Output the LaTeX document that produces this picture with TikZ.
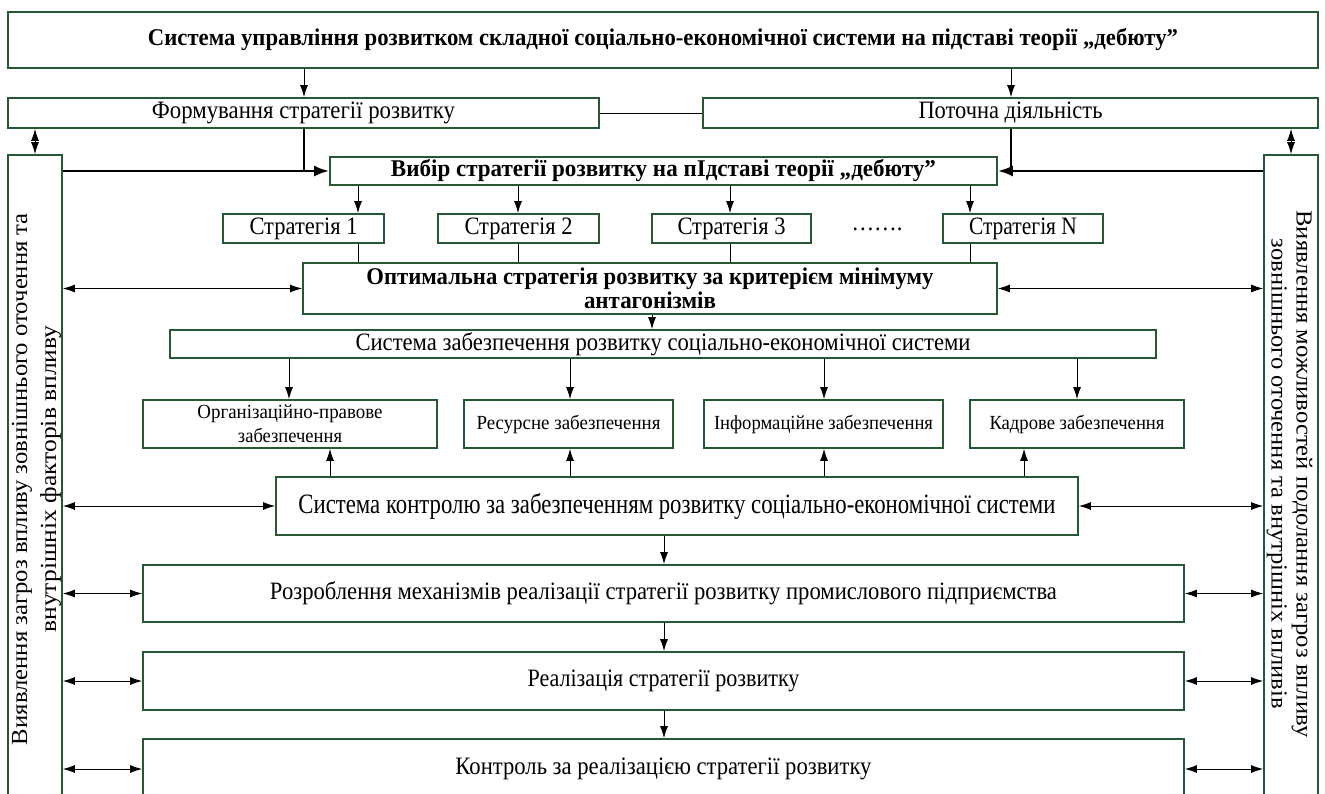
\documentclass[tikz,border=0pt]{standalone}
\usepackage{fontspec}
\setmainfont{Liberation Serif}
\usetikzlibrary{arrows.meta}
\definecolor{boxgreen}{RGB}{38,88,52}
\newcommand{\fw}[2]{\resizebox{#1pt}{\height}{#2}}
\begin{document}
\begin{tikzpicture}[x=1pt,y=-1pt,
  box/.style={draw=boxgreen, line width=1.8pt, rectangle, inner sep=0pt, fill=white},
  arr/.style={-{Latex[length=12pt,width=8pt]}, line width=0.8pt},
  darr/.style={{Latex[length=12pt,width=8pt]}-{Latex[length=12pt,width=8pt]}, line width=0.8pt},
  tharr/.style={-{Latex[length=15pt,width=11pt]}, line width=2.4pt},
  thln/.style={line width=2.4pt},
  ln/.style={line width=0.8pt},
  fbig/.style={font=\fontsize{25}{28}\selectfont},
  fbold/.style={font=\bfseries\fontsize{24}{24}\selectfont},
  fsmall/.style={font=\fontsize{20}{24}\selectfont},
  fctrl/.style={font=\fontsize{28}{30}\selectfont}
  ]
\useasboundingbox (0,0) rectangle (1325,794);
\fill[white] (0,0) rectangle (1325,794);
\clip (0,0) rectangle (1325,794);

% side boxes
\node[box, minimum width=54, minimum height=645] (lside) at (35,477.5) {};
\node[box, minimum width=54, minimum height=645] (rside) at (1291,477.5) {};
\node[font=\fontsize{23}{29}\selectfont, align=center, rotate=90, inner sep=0pt] (ltext) at (36.5,479)
  {\fw{532}{Виявлення загроз впливу зовнішнього оточення та}\\\fw{307}{внутрішніх факторів впливу}};
\node[font=\fontsize{23}{25}\selectfont, align=center, rotate=-90, inner sep=0pt] (rtext) at (1289.5,474)
  {\fw{527}{Виявлення можливостей подолання загроз впливу}\\\fw{470}{зовнішнього оточення та внутрішніх впливів}};

% top rows
\node[box, fbold, minimum width=1310, minimum height=56] (top) at (663,40)
  {\fw{1030}{Система управління розвитком складної соціально-економічної системи на підставі теорії „дебюту”}};
\node[box, fbig, minimum width=591, minimum height=30] (form) at (303.5,113)
  {\fw{303}{Формування стратегії розвитку}};
\node[box, fbig, minimum width=615, minimum height=30] (potoch) at (1010.5,113)
  {\fw{184}{Поточна діяльність}};
\node[box, fbold, minimum width=667, minimum height=28] (vybir) at (663.5,171)
  {\fw{545}{Вибір стратегії розвитку на пІдставі теорії „дебюту”}};

% strategies
\node[box, fbig, minimum width=161, minimum height=29] (s1) at (303.5,228.5) {\fw{108}{Стратегія 1}};
\node[box, fbig, minimum width=161, minimum height=29] (s2) at (518.5,228.5) {\fw{108}{Стратегія 2}};
\node[box, fbig, minimum width=159, minimum height=29] (s3) at (731.5,228.5) {\fw{108}{Стратегія 3}};
\node[box, fbig, minimum width=160, minimum height=29] (sn) at (1023,228.5) {\fw{108}{Стратегія N}};
\node[fbig, inner sep=0pt] (dots) at (877,229) {\fw{51}{…….}};

\node[box, fbold, minimum width=694, minimum height=51, align=center] (opt) at (650,288.5)
  {\fw{567}{Оптимальна стратегія розвитку за критерієм мінімуму}\\\fw{132}{антагонізмів}};

\node[box, fbig, minimum width=986, minimum height=28] (zab) at (663,344)
  {\fw{615}{Система забезпечення розвитку соціально-економічної системи}};

% support boxes
\node[box, fsmall, minimum width=294, minimum height=48, align=center] (org) at (290,424)
  {\fw{185}{Організаційно-правове}\\\fw{104}{забезпечення}};
\node[box, fsmall, minimum width=209, minimum height=48] (res) at (568.5,424)
  {\fw{184}{Ресурсне забезпечення}};
\node[box, fsmall, minimum width=239, minimum height=48] (inf) at (823.5,424)
  {\fw{219}{Інформаційне забезпечення}};
\node[box, fsmall, minimum width=214, minimum height=48] (kad) at (1077,424)
  {\fw{175}{Кадрове забезпечення}};

\node[box, fctrl, minimum width=802, minimum height=58] (ctrl) at (677,506)
  {\fw{757}{Система контролю за забезпеченням розвитку соціально-економічної системи}};

\node[box, fbig, minimum width=1041, minimum height=57] (mech) at (663.5,593.5)
  {\fw{787}{Розроблення механізмів реалізації стратегії розвитку промислового підприємства}};
\node[box, fbig, minimum width=1041, minimum height=58] (real) at (663.5,681)
  {\fw{272}{Реалізація стратегії розвитку}};
\node[box, minimum width=1041, minimum height=91] (kontr) at (663.5,784.5) {};
\node[fbig, inner sep=0pt] (kontrtext) at (663.5,769)
  {\fw{416}{Контроль за реалізацією стратегії розвитку}};

% coordinates for vertical connectors
\coordinate (c1) at (304,0);
\coordinate (c2) at (1011,0);
\coordinate (a1) at (358,0);
\coordinate (a2) at (518,0);
\coordinate (a3) at (730,0);
\coordinate (a4) at (970,0);
\coordinate (d1) at (289,0);
\coordinate (d2) at (570,0);
\coordinate (d3) at (824,0);
\coordinate (d4) at (1077,0);
\coordinate (u1) at (330,0);
\coordinate (u2) at (570,0);
\coordinate (u3) at (824,0);
\coordinate (u4) at (1024,0);
\coordinate (m) at (664,0);
\coordinate (o) at (652,0);

% top connectors
\draw[arr] (top.south -| c1) -- (form.north -| c1);
\draw[arr] (top.south -| c2) -- (potoch.north -| c2);
\draw[ln] (form.east) -- (potoch.west);
\draw[darr] (form.south -| lside.north) -- (lside.north);
\draw[darr] (potoch.south -| rside.north) -- (rside.north);

% thick inputs to vybir
\draw[thln] (form.south -| c1) -- (c1 |- vybir.west);
\draw[tharr] (lside.east |- vybir.west) -- (vybir.west);
\draw[thln] (potoch.south -| c2) -- (c2 |- vybir.east);
\draw[tharr] (rside.west |- vybir.east) -- (vybir.east);

% strategies
\foreach \a/\s in {a1/s1, a2/s2, a3/s3, a4/sn}{
  \draw[arr] (vybir.south -| \a) -- (\s.north -| \a);
  \draw[ln] (\s.south -| \a) -- (opt.north -| \a);
}

\draw[darr] (lside.east |- opt.west) -- (opt.west);
\draw[darr] (opt.east) -- (rside.west |- opt.east);
\draw[arr] (opt.south -| o) -- (zab.north -| o);

\draw[arr] (zab.south -| d1) -- (org.north -| d1);
\draw[arr] (zab.south -| d2) -- (res.north -| d2);
\draw[arr] (zab.south -| d3) -- (inf.north -| d3);
\draw[arr] (zab.south -| d4) -- (kad.north -| d4);

\draw[arr] (ctrl.north -| u1) -- (org.south -| u1);
\draw[arr] (ctrl.north -| u2) -- (res.south -| u2);
\draw[arr] (ctrl.north -| u3) -- (inf.south -| u3);
\draw[arr] (ctrl.north -| u4) -- (kad.south -| u4);

\draw[darr] (lside.east |- ctrl.west) -- (ctrl.west);
\draw[darr] (ctrl.east) -- (rside.west |- ctrl.east);

\draw[arr] (ctrl.south -| m) -- (mech.north -| m);
\draw[arr] (mech.south -| m) -- (real.north -| m);
\draw[arr] (real.south -| m) -- (kontr.north -| m);

\draw[darr] (lside.east |- mech.west) -- (mech.west);
\draw[darr] (mech.east) -- (rside.west |- mech.east);
\draw[darr] (lside.east |- real.west) -- (real.west);
\draw[darr] (real.east) -- (rside.west |- real.east);
\draw[darr] (lside.east |- kontrtext) -- (kontrtext -| kontr.west);
\draw[darr] (kontrtext -| kontr.east) -- (rside.west |- kontrtext);
\end{tikzpicture}
\end{document}
